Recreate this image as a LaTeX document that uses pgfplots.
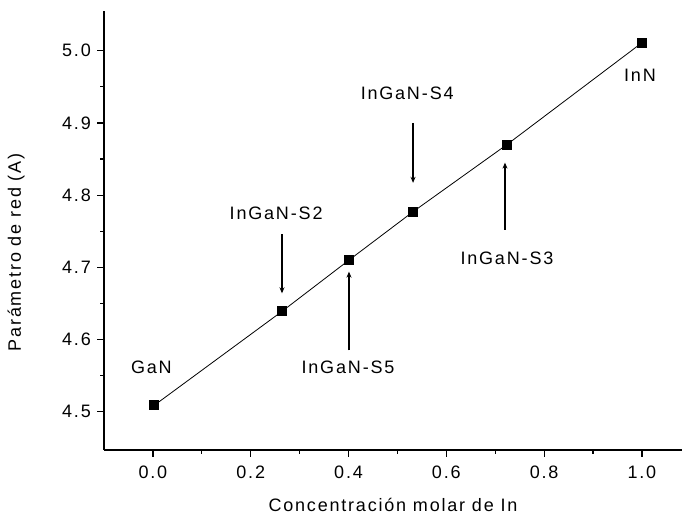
\documentclass[border=0pt]{standalone}
\usepackage{fontspec}
\setmainfont{Liberation Sans}[LetterSpace=10]
\usepackage{pgfplots}
\pgfplotsset{compat=1.18}
\usetikzlibrary{arrows.meta}
\begin{document}
\fontsize{18}{21}\selectfont
\begin{tikzpicture}
\path[use as bounding box] (0,0) rectangle (682pt,516pt);
\begin{axis}[
  at={(104pt,66pt)}, anchor=south west,
  scale only axis, width=578pt, height=439pt,
  xmin=-0.1, xmax=1.082, ymin=4.447, ymax=5.055,
  axis lines=left, axis line style={-, line width=1.2pt, black},
  clip=false,
  xtick={0,0.2,0.4,0.6,0.8,1.0},
  ytick={4.5,4.6,4.7,4.8,4.9,5.0},
  minor x tick num=1, minor y tick num=1,
  tick align=outside,
  major tick length=7pt, minor tick length=4pt,
  every tick/.style={black, line width=1.2pt},
  /pgf/number format/assume math mode=true,
  xticklabel style={yshift=-3pt, /pgf/number format/.cd, fixed, fixed zerofill, precision=1},
  yticklabel style={/pgf/number format/.cd, fixed, fixed zerofill, precision=1},
  tick label style={font=\fontsize{18}{21}\selectfont},
  label style={font=\fontsize{18}{21}\selectfont},
  xlabel={Concentración molar de In},
  ylabel={Parámetro de red (A)},
  xlabel style={at={(ticklabel cs:0.5)}, anchor=center, yshift=-20pt},
  ylabel style={at={(ticklabel cs:0.45)}, anchor=center, yshift=40pt},
]
\addplot[black, line width=0.8pt, mark=square*, mark size=4.5pt, mark options={solid}]
  coordinates {(0.003,4.509) (0.264,4.639) (0.401,4.710) (0.532,4.777) (0.724,4.870) (1.001,5.0115)};
\node[font=\fontsize{18}{21}\selectfont] at (axis cs:-0.003,4.562) {GaN};
\node[font=\fontsize{18}{21}\selectfont] at (axis cs:0.996,4.966) {InN};
\node[font=\fontsize{18}{21}\selectfont] at (axis cs:0.252,4.775) {InGaN\hspace{2pt}-S2};
\node[font=\fontsize{18}{21}\selectfont] at (axis cs:0.399,4.561) {InGaN\hspace{2pt}-S5};
\node[font=\fontsize{18}{21}\selectfont] at (axis cs:0.520,4.941) {InGaN\hspace{2pt}-S4};
\node[font=\fontsize{18}{21}\selectfont] at (axis cs:0.724,4.713) {InGaN\hspace{2pt}-S3};
\draw[-{Stealth[length=6pt,width=5pt]}, line width=1.2pt] (axis cs:0.264,4.746) -- (axis cs:0.264,4.664);
\draw[-{Stealth[length=6pt,width=5pt]}, line width=1.2pt] (axis cs:0.401,4.585) -- (axis cs:0.401,4.694);
\draw[-{Stealth[length=6pt,width=5pt]}, line width=1.2pt] (axis cs:0.532,4.900) -- (axis cs:0.532,4.817);
\draw[-{Stealth[length=6pt,width=5pt]}, line width=1.2pt] (axis cs:0.720,4.752) -- (axis cs:0.720,4.845);
\end{axis}
\end{tikzpicture}
\end{document}
